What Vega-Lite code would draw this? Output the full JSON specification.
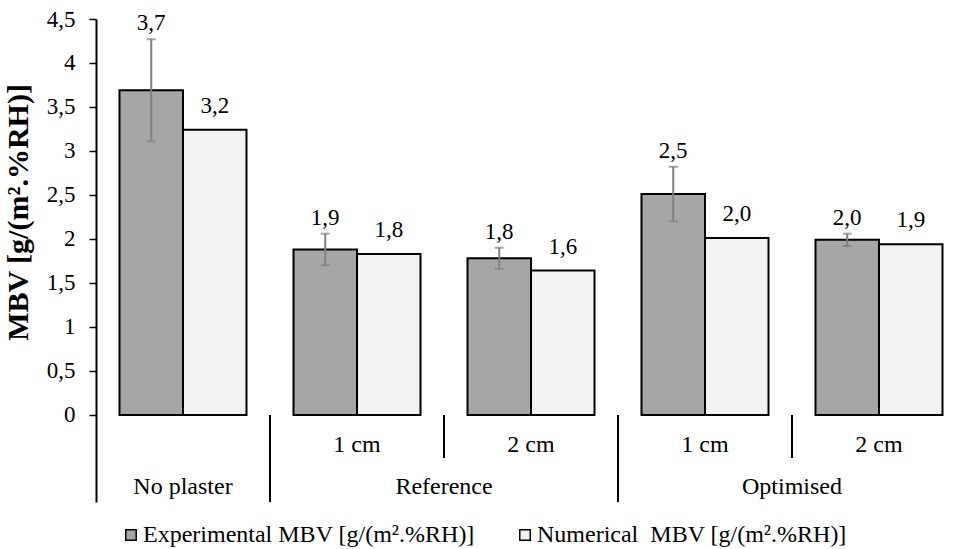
{
  "$schema": "https://vega.github.io/schema/vega-lite/v6.json",
  "autosize": {"type": "none"},
  "width": 857,
  "height": 483,
  "padding": {"left": 96, "top": 19, "right": 0, "bottom": 47},
  "background": "white",
  "config": {
    "view": {"stroke": null},
    "font": "Liberation Serif",
    "locale": {"number": {"decimal": ",", "thousands": ".", "grouping": [3], "currency": ["", " €"]}}
  },
  "datasets": {
    "bars": [
      {"cat": "NP", "series": "Experimental MBV [g/(m².%RH)]", "value": 3.69, "lo": 3.11, "hi": 4.27},
      {"cat": "NP", "series": "Numerical\u00a0 MBV [g/(m².%RH)]", "value": 3.24},
      {"cat": "R1", "series": "Experimental MBV [g/(m².%RH)]", "value": 1.88, "lo": 1.70, "hi": 2.06},
      {"cat": "R1", "series": "Numerical\u00a0 MBV [g/(m².%RH)]", "value": 1.83},
      {"cat": "R2", "series": "Experimental MBV [g/(m².%RH)]", "value": 1.78, "lo": 1.66, "hi": 1.90},
      {"cat": "R2", "series": "Numerical\u00a0 MBV [g/(m².%RH)]", "value": 1.64},
      {"cat": "O1", "series": "Experimental MBV [g/(m².%RH)]", "value": 2.51, "lo": 2.20, "hi": 2.82},
      {"cat": "O1", "series": "Numerical\u00a0 MBV [g/(m².%RH)]", "value": 2.01},
      {"cat": "O2", "series": "Experimental MBV [g/(m².%RH)]", "value": 1.99, "lo": 1.92, "hi": 2.06},
      {"cat": "O2", "series": "Numerical\u00a0 MBV [g/(m².%RH)]", "value": 1.94}
    ],
    "sublabels": [
      {"cat": "R1", "lab": "1 cm"},
      {"cat": "R2", "lab": "2 cm"},
      {"cat": "O1", "lab": "1 cm"},
      {"cat": "O2", "lab": "2 cm"}
    ],
    "grouplabel_np": [{"cat": "NP", "lab": "No plaster"}],
    "grouplabels": [
      {"cat": "R1", "lab": "Reference"},
      {"cat": "O1", "lab": "Optimised"}
    ],
    "sep_long": [{"cat": "R1"}, {"cat": "O1"}],
    "sep_short": [{"cat": "R2"}, {"cat": "O2"}]
  },
  "layer": [
    {
      "data": {"name": "bars"},
      "mark": {"type": "bar", "stroke": "black", "strokeWidth": 2},
      "encoding": {
        "x": {"field": "cat", "type": "nominal", "scale": {"domain": ["NP", "R1", "R2", "O1", "O2"], "range": [0, 870], "paddingInner": 0, "paddingOuter": 0}, "axis": null},
        "xOffset": {"field": "series", "type": "nominal", "scale": {"domain": ["Experimental MBV [g/(m².%RH)]", "Numerical\u00a0 MBV [g/(m².%RH)]"], "paddingInner": 0, "paddingOuter": 0.37}},
        "y": {"field": "value", "type": "quantitative", "scale": {"domain": [-0.99, 4.5], "nice": false, "zero": false},
          "axis": {"values": [0, 0.5, 1, 1.5, 2, 2.5, 3, 3.5, 4, 4.5], "labelExpr": "replace(format(datum.value, '~g'), '.', ',')",
            "grid": false, "domainColor": "black", "domainWidth": 2, "tickColor": "black", "tickWidth": 1.5, "tickSize": 7,
            "labelFont": "Liberation Serif", "labelFontSize": 23, "labelColor": "black", "labelPadding": 14,
            "title": "MBV [g/(m².%RH)]", "titleFont": "Liberation Serif", "titleFontSize": 30, "titleFontWeight": "bold", "titleColor": "black",
            "titleX": -78, "titleY": 193, "titleAngle": 270, "titleBaseline": "middle", "titleAlign": "center", "titleLimit": 0}},
        "color": {"field": "series", "type": "nominal",
          "scale": {"domain": ["Experimental MBV [g/(m².%RH)]", "Numerical\u00a0 MBV [g/(m².%RH)]"], "range": ["#a6a6a6", "#f2f2f2"]},
          "legend": {"orient": "none", "legendX": 23, "legendY": 504, "direction": "horizontal", "title": null,
            "symbolType": "square", "symbolSize": 110, "symbolStrokeColor": "black", "symbolStrokeWidth": 1.5,
            "labelFont": "Liberation Serif", "labelFontSize": 24, "labelColor": "black", "labelOffset": 0, "labelLimit": 0, "columnPadding": 38, "padding": 0}}
      }
    },
    {
      "data": {"name": "bars"},
      "transform": [{"filter": "isValid(datum.hi)"}],
      "mark": {"type": "rule", "color": "#7f7f7f", "strokeWidth": 2},
      "encoding": {
        "x": {"field": "cat", "type": "nominal", "scale": {"domain": ["NP", "R1", "R2", "O1", "O2"]}},
        "xOffset": {"field": "series", "type": "nominal"},
        "y": {"field": "lo", "type": "quantitative"},
        "y2": {"field": "hi"}
      }
    },
    {
      "data": {"name": "bars"},
      "transform": [{"filter": "isValid(datum.hi)"}],
      "mark": {"type": "tick", "color": "#7f7f7f", "size": 9, "thickness": 2, "orient": "horizontal"},
      "encoding": {
        "x": {"field": "cat", "type": "nominal", "scale": {"domain": ["NP", "R1", "R2", "O1", "O2"]}},
        "xOffset": {"field": "series", "type": "nominal"},
        "y": {"field": "hi", "type": "quantitative"}
      }
    },
    {
      "data": {"name": "bars"},
      "transform": [{"filter": "isValid(datum.lo)"}],
      "mark": {"type": "tick", "color": "#7f7f7f", "size": 9, "thickness": 2, "orient": "horizontal"},
      "encoding": {
        "x": {"field": "cat", "type": "nominal", "scale": {"domain": ["NP", "R1", "R2", "O1", "O2"]}},
        "xOffset": {"field": "series", "type": "nominal"},
        "y": {"field": "lo", "type": "quantitative"}
      }
    },
    {
      "data": {"name": "bars"},
      "transform": [{"filter": "isValid(datum.hi)"}],
      "mark": {"type": "text", "font": "Liberation Serif", "fontSize": 23, "color": "black", "baseline": "middle", "dy": -16},
      "encoding": {
        "x": {"field": "cat", "type": "nominal", "scale": {"domain": ["NP", "R1", "R2", "O1", "O2"]}},
        "xOffset": {"field": "series", "type": "nominal"},
        "y": {"field": "hi", "type": "quantitative"},
        "text": {"field": "value", "type": "quantitative", "format": ".1f"}
      }
    },
    {
      "data": {"name": "bars"},
      "transform": [{"filter": "!isValid(datum.hi)"}],
      "mark": {"type": "text", "font": "Liberation Serif", "fontSize": 23, "color": "black", "baseline": "middle", "dy": -24},
      "encoding": {
        "x": {"field": "cat", "type": "nominal", "scale": {"domain": ["NP", "R1", "R2", "O1", "O2"]}},
        "xOffset": {"field": "series", "type": "nominal"},
        "y": {"field": "value", "type": "quantitative"},
        "text": {"field": "value", "type": "quantitative", "format": ".1f"}
      }
    },
    {
      "mark": {"type": "rule", "color": "black", "strokeWidth": 2},
      "encoding": {"y": {"datum": 0, "type": "quantitative"}}
    },
    {
      "data": {"name": "sep_long"},
      "mark": {"type": "rule", "color": "black", "strokeWidth": 2},
      "encoding": {
        "x": {"field": "cat", "type": "nominal", "bandPosition": 0, "scale": {"domain": ["NP", "R1", "R2", "O1", "O2"]}},
        "y": {"datum": 0, "type": "quantitative"},
        "y2": {"datum": -0.99}
      }
    },
    {
      "data": {"name": "sep_short"},
      "mark": {"type": "rule", "color": "black", "strokeWidth": 2},
      "encoding": {
        "x": {"field": "cat", "type": "nominal", "bandPosition": 0, "scale": {"domain": ["NP", "R1", "R2", "O1", "O2"]}},
        "y": {"datum": 0, "type": "quantitative"},
        "y2": {"datum": -0.49}
      }
    },
    {
      "data": {"name": "sublabels"},
      "mark": {"type": "text", "font": "Liberation Serif", "fontSize": 24, "color": "black", "baseline": "middle"},
      "encoding": {
        "x": {"field": "cat", "type": "nominal", "bandPosition": 0.5, "scale": {"domain": ["NP", "R1", "R2", "O1", "O2"]}},
        "y": {"datum": -0.34, "type": "quantitative"},
        "text": {"field": "lab"}
      }
    },
    {
      "data": {"name": "grouplabel_np"},
      "mark": {"type": "text", "font": "Liberation Serif", "fontSize": 24, "color": "black", "baseline": "middle"},
      "encoding": {
        "x": {"field": "cat", "type": "nominal", "bandPosition": 0.5, "scale": {"domain": ["NP", "R1", "R2", "O1", "O2"]}},
        "y": {"datum": -0.82, "type": "quantitative"},
        "text": {"field": "lab"}
      }
    },
    {
      "data": {"name": "grouplabels"},
      "mark": {"type": "text", "font": "Liberation Serif", "fontSize": 24, "color": "black", "baseline": "middle"},
      "encoding": {
        "x": {"field": "cat", "type": "nominal", "bandPosition": 1, "scale": {"domain": ["NP", "R1", "R2", "O1", "O2"]}},
        "y": {"datum": -0.82, "type": "quantitative"},
        "text": {"field": "lab"}
      }
    }
  ]
}
